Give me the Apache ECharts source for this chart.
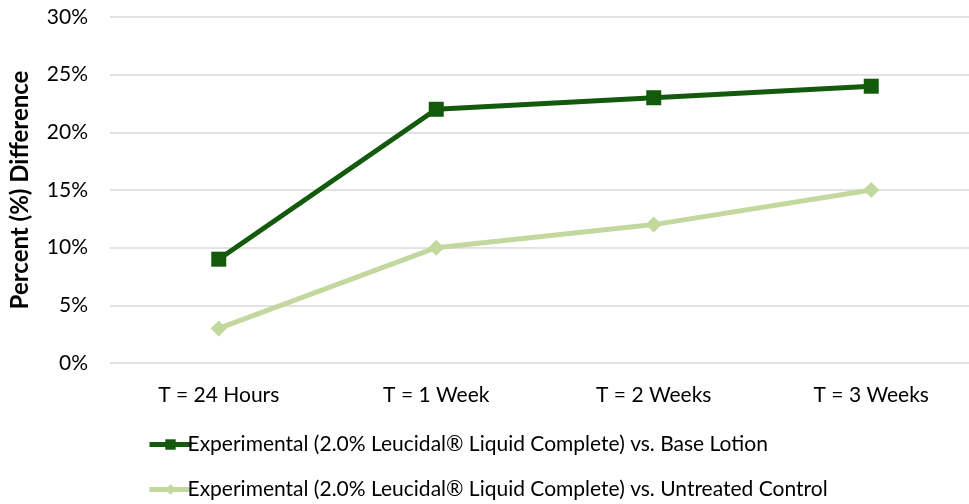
<!DOCTYPE html>
<html><head><meta charset="utf-8">
<script src="https://cdn.jsdelivr.net/npm/echarts@6/dist/echarts.min.js"></script>
<style>html,body{margin:0;padding:0;background:#fff;overflow:hidden;width:969px;height:504px}#c{width:980px;height:504px}</style>
</head><body><div id="c"></div>
<script>
const categories = ['T = 24 Hours', 'T = 1 Week', 'T = 2 Weeks', 'T = 3 Weeks'];
const seriesNames = ['Experimental (2.0% Leucidal\u00AE Liquid Complete) vs. Base Lotion', 'Experimental (2.0% Leucidal\u00AE Liquid Complete) vs. Untreated Control'];
const baseLotion = [9, 22, 23, 24];
const untreated = [3, 10, 12, 15];
const yTitle = 'Percent (%) Difference';
const FONT = 'Lato';
const chart = echarts.init(document.getElementById('c'));
chart.setOption({
  animation: false,
  grid: {left: 108, right: 0, top: 17, bottom: 141},
  xAxis: {type: 'category', data: categories, boundaryGap: true,
    axisLine: {show: false}, axisTick: {show: false},
    axisLabel: {color: '#000', fontFamily: FONT, fontSize: 21, margin: 22}},
  yAxis: {type: 'value', min: 0, max: 30, interval: 5,
    axisLabel: {formatter: '{value}%', color: '#000', fontFamily: FONT, fontSize: 21, margin: 22},
    splitLine: {lineStyle: {color: '#d9d9d9', width: 1.5}},
    name: yTitle, nameLocation: 'middle', nameGap: 78, nameRotate: 90,
    nameTextStyle: {color: '#000', fontFamily: FONT, fontSize: 24, fontWeight: 'bold'}},
  legend: {orient: 'vertical', left: 147, top: 434, height: 70, padding: 0, itemGap: 24, itemWidth: 42, itemHeight: 13,
    lineStyle: {width: 5},
    textStyle: {color: '#000', fontFamily: FONT, fontSize: 21, padding: [0,0,0,-9]},
    data: seriesNames},
  series: [
    {name: seriesNames[0], type: 'line', data: baseLotion, symbol: 'rect', symbolSize: 15,
      lineStyle: {color: '#145a0c', width: 5}, itemStyle: {color: '#145a0c'}},
    {name: seriesNames[1], type: 'line', data: untreated, symbol: 'diamond', symbolSize: 16,
      lineStyle: {color: '#c3d89f', width: 5}, itemStyle: {color: '#c3d89f'}}
  ]
});
</script></body></html>
